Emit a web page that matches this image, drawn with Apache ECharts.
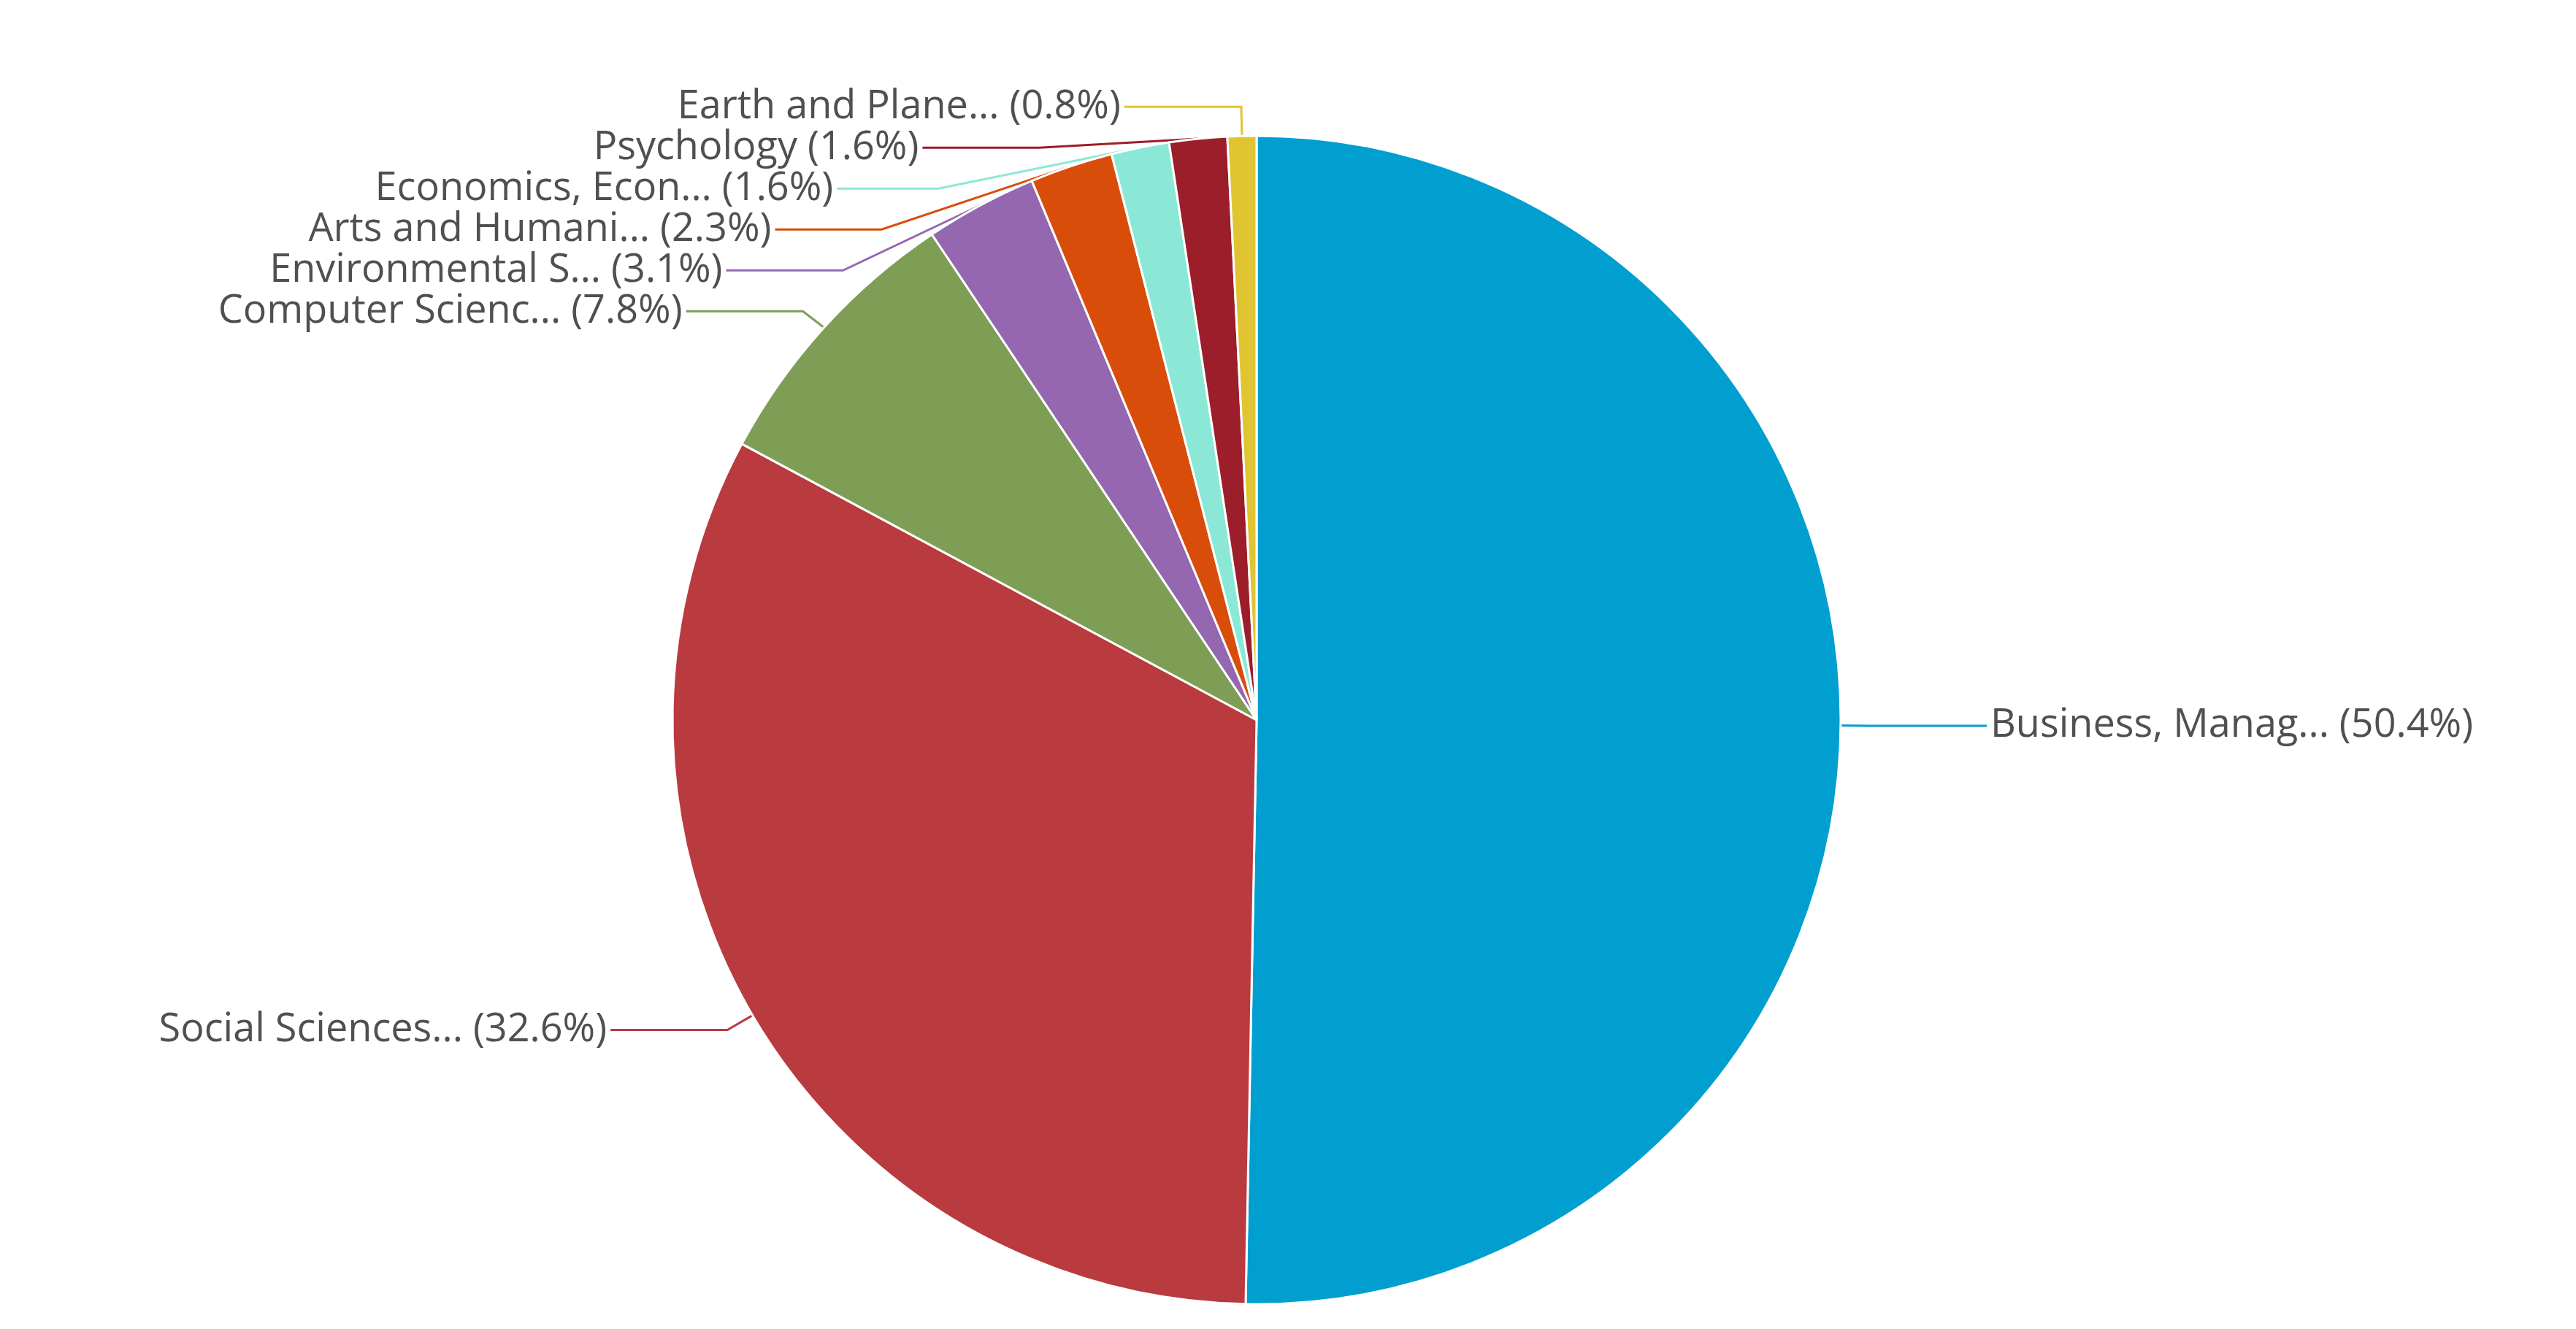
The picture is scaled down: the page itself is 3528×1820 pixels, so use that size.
<!DOCTYPE html>
<html lang="en">
<head>
  <meta charset="UTF-8">
  <title>Subject area</title>
  <style type="text/css">
    * { margin: 0; padding: 0; }
    html, body { width: 100%; height: 100%; overflow: hidden; background: #fff; }
    #main { width: 3528px; height: 1820px; }
  </style>
  <script type="text/javascript" src="https://cdn.jsdelivr.net/npm/echarts@6/dist/echarts.min.js"></script>
</head>
<body>
<div id="main"></div>
<script type="text/javascript">
  var names = ['Business, Manag...', 'Social Sciences...', 'Computer Scienc...', 'Environmental S...',
    'Arts and Humani...', 'Economics, Econ...', 'Psychology', 'Earth and Plane...'];
  var values = [50.4, 32.6, 7.8, 3.1, 2.3, 1.6, 1.6, 0.8];
  var colors = ['#009fd0', '#b93a3f', '#7e9e56', '#9467b0', '#d94d0a', '#8ce8d6', '#9b1e2a', '#e1c432'];

  var data = [];
  for (var i = 0; i < names.length; i++) {
    data.push({ name: names[i], value: values[i], itemStyle: { color: colors[i] } });
  }

  var myChart = echarts.init(document.getElementById('main'));
  myChart.setOption({
    animation: false,
    series: [{
      type: 'pie',
      center: [1721, 986],
      radius: 800,
      startAngle: 90,
      clockwise: true,
      data: data,
      itemStyle: { borderColor: '#fff', borderWidth: 3 },
      label: {
        formatter: '{b} ({c}%)',
        fontFamily: 'Open Sans',
        fontSize: 54,
        color: '#505050'
      },
      labelLine: { length: 40, length2: 160, lineStyle: { width: 3 } }
    }]
  });
</script>
</body>
</html>
